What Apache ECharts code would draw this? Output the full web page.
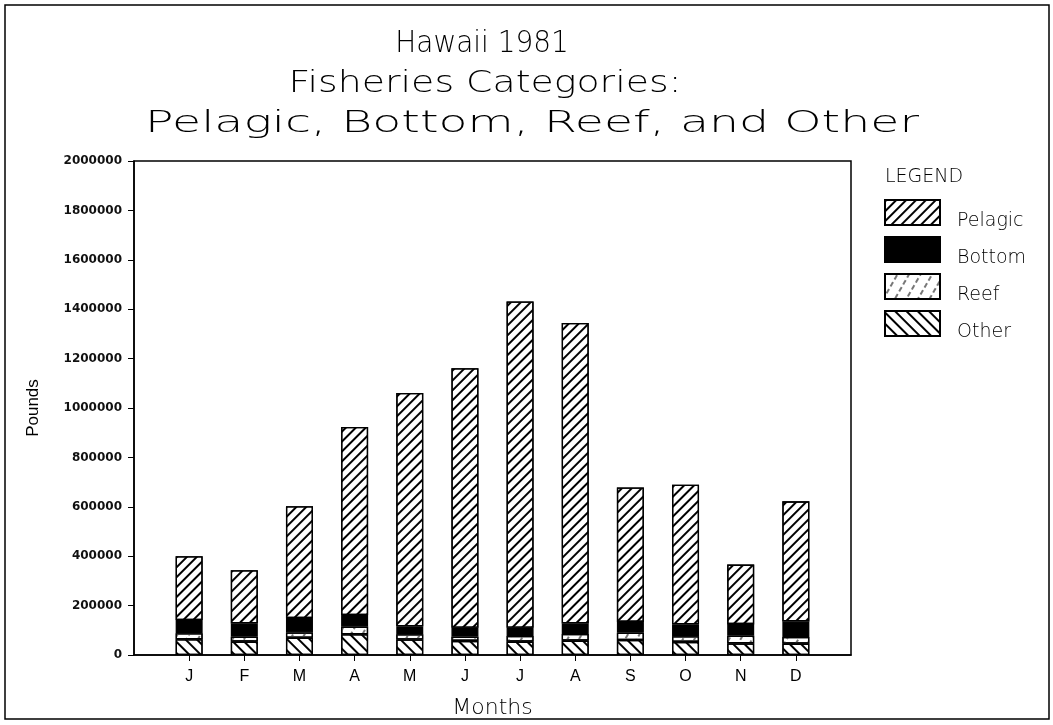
<!DOCTYPE html>
<html>
<head>
<meta charset="utf-8">
<style>
html,body{margin:0;padding:0;background:#fff;}
#chart{width:1053px;height:725px;}
</style>
<script src="https://cdn.jsdelivr.net/npm/echarts@6/dist/echarts.min.js"></script>
</head>
<body>
<div id="chart"></div>
<script>
// ---- data ----
var months = ['J','F','M','A','M','J','J','A','S','O','N','D'];
var pelagic = [258000, 215000, 452000, 761000, 945000, 1051000, 1321000, 1216000, 544000, 565000, 241000, 486000];
var bottom  = [54000, 54000, 59000, 47000, 32000, 36000, 33000, 43000, 44000, 48000, 47000, 63000];
var reef    = [24000, 20000, 21000, 31000, 21000, 17000, 23000, 27000, 29000, 23000, 31000, 27000];
var other   = [64000, 54000, 70000, 84000, 63000, 57000, 54000, 58000, 61000, 53000, 47000, 46000];
var yTicks  = [0, 2000000, 200000];
var titleLines = ['Hawaii 1981', 'Fisheries Categories:', 'Pelagic, Bottom, Reef, and Other'];
var legendNames = ['Pelagic', 'Bottom', 'Reef', 'Other'];

var chart = echarts.init(document.getElementById('chart'), null, {renderer:'canvas'});
var thinFont = 'DejaVu Sans';
var border = {borderColor:'#000', borderWidth:1.3};

// frame grid and inner bar grid (inner grid inset by half a slot of 13 slots)
var frame = {left:134, right:202, top:161, bottom:70};
var halfSlot = (1053 - frame.left - frame.right) / (months.length + 1) / 2;

var option = {
  backgroundColor:'#fff',
  animation:false,
  grid:[
    {left:frame.left, right:frame.right, top:frame.top, bottom:frame.bottom, show:true, borderColor:'#000', borderWidth:1.5, backgroundColor:'transparent'},
    {left:frame.left + halfSlot, right:frame.right + halfSlot, top:frame.top, bottom:frame.bottom}
  ],
  legend:{
    data: legendNames,
    orient:'vertical', left:884, top:199, padding:0,
    itemWidth:55, itemHeight:25, itemGap:5,
    icon:'rect',
    formatter:function(n){ return '{a|' + n + '}'; },
    textStyle:{color:'#000', rich:{a:{fontFamily:thinFont, fontWeight:200, fontSize:19, color:'#000', padding:[18,0,0,12]}}}
  },
  xAxis:[
    {
      type:'value', gridIndex:0, min:0, max:1,
      name:'Months', nameLocation:'middle', nameGap:42,
      nameTextStyle:{fontFamily:thinFont, fontWeight:200, fontSize:22, color:'#000'},
      axisLine:{show:true, lineStyle:{color:'#000', width:1.5}},
      axisTick:{show:false}, axisLabel:{show:false}, splitLine:{show:false}
    },
    {
      type:'category', gridIndex:1, data:months,
      axisLine:{show:false},
      axisTick:{show:true, alignWithLabel:true, length:6, lineStyle:{color:'#000'}},
      axisLabel:{margin:14, fontFamily:'Liberation Sans', fontSize:16, color:'#000'},
      splitLine:{show:false}
    }
  ],
  yAxis:[
    {
      type:'value', gridIndex:0, min:yTicks[0], max:yTicks[1], interval:yTicks[2],
      name:'Pounds', nameLocation:'middle', nameGap:92, nameRotate:90,
      nameTextStyle:{fontFamily:'Liberation Sans Narrow, Liberation Sans', fontSize:17, color:'#000'},
      axisLine:{show:true, lineStyle:{color:'#000', width:1.5}},
      axisTick:{show:true, length:6, lineStyle:{color:'#000'}},
      axisLabel:{margin:12, fontFamily:'DejaVu Sans', fontWeight:'bold', fontSize:12, color:'#111',
        formatter:function(v){ return String(v); }},
      splitLine:{show:false}
    },
    {
      type:'value', gridIndex:1, min:yTicks[0], max:yTicks[1], interval:yTicks[2], show:false,
      splitLine:{show:false}
    }
  ],
  graphic:[
    {type:'rect', z:-10, silent:true, shape:{x:5, y:5, width:1044, height:714}, style:{fill:'none', stroke:'#000', lineWidth:1.5}},
    {type:'text', x:482, y:44, scaleX:0.9, style:{text:titleLines[0], font:'200 31px "DejaVu Sans"', fill:'#000', textAlign:'center', textVerticalAlign:'middle'}},
    {type:'text', x:485, y:84, scaleX:1.22, style:{text:titleLines[1], font:'200 31px "DejaVu Sans"', fill:'#000', textAlign:'center', textVerticalAlign:'middle'}},
    {type:'text', x:532, y:124, scaleX:1.53, style:{text:titleLines[2], font:'200 31px "DejaVu Sans"', fill:'#000', textAlign:'center', textVerticalAlign:'middle'}},
    {type:'text', x:885, y:177, style:{text:'LEGEND', font:'200 19px "DejaVu Sans"', fill:'#000', textAlign:'left', textVerticalAlign:'middle'}}
  ],
  series:[
    {name:'Other', type:'bar', stack:'total', xAxisIndex:1, yAxisIndex:1, barWidth:27, data:other,
      itemStyle:Object.assign({color:'#fff', decal:{symbol:'rect', symbolSize:1, dashArrayX:[1,0], dashArrayY:[1.6,5.5], rotation:Math.PI/4, color:'#000'}}, border)},
    {name:'Reef', type:'bar', stack:'total', xAxisIndex:1, yAxisIndex:1, barWidth:27, data:reef,
      itemStyle:Object.assign({color:'#fff', decal:{symbol:'rect', symbolSize:1, dashArrayX:[[5,3]], dashArrayY:[1.3,8], rotation:-Math.PI/3, color:'#777'}}, border)},
    {name:'Bottom', type:'bar', stack:'total', xAxisIndex:1, yAxisIndex:1, barWidth:27, data:bottom,
      itemStyle:Object.assign({color:'#000'}, border)},
    {name:'Pelagic', type:'bar', stack:'total', xAxisIndex:1, yAxisIndex:1, barWidth:27, data:pelagic,
      itemStyle:Object.assign({color:'#fff', decal:{symbol:'rect', symbolSize:1, dashArrayX:[1,0], dashArrayY:[1.2,4.2], rotation:-Math.PI/4, color:'#000'}}, border)}
  ]
};
chart.setOption(option);
</script>
</body>
</html>
